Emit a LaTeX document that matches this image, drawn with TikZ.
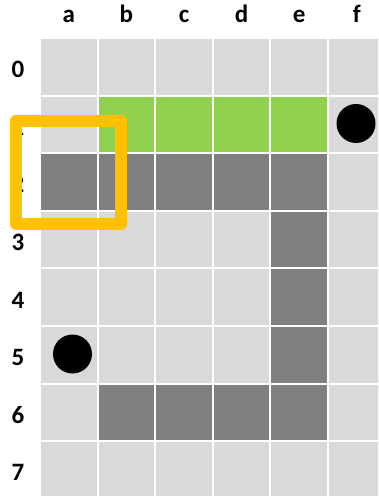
\documentclass[tikz,border=0pt]{standalone}
\usepackage{fontspec}
\setmainfont{Carlito}
\usepackage{tikz}
\usetikzlibrary{positioning}

\definecolor{cellgray}{HTML}{D9D9D9}
\definecolor{wallgray}{HTML}{7F7F7F}
\definecolor{pathgreen}{HTML}{92D050}
\definecolor{selorange}{HTML}{FFC000}

\begin{document}
\begin{tikzpicture}[x=57.6pt,y=-57.6pt,
    cell/.style={rectangle,draw=white,line width=2pt,fill=cellgray,
        minimum size=57.6pt,inner sep=0pt},
    wall/.style={cell,fill=wallgray},
    green/.style={cell,fill=pathgreen},
    lbl/.style={anchor=base,font=\fontsize{25}{27}\selectfont\bfseries},
    token/.style={circle,fill=black,minimum size=39pt,inner sep=0pt},
    selbox/.style={draw=selorange,line width=12pt,line join=round}]
    \clip (-0.6944,-0.6597) rectangle (5.868,7.951);
    \fill[white] (-0.6944,-0.6597) rectangle (5.868,7.951);
    % grid
    \foreach \col [count=\i from 0] in {a,b,c,d,e,f} {
        \node[lbl] (c\col) at (\i+0.5,-0.266) {\col};
        \foreach \row in {0,...,7}
            \node[cell] (\col\row) at (\i+0.5,\row+0.5) {};
    }
    \foreach \row in {0,...,7}
        \node[lbl] (r\row) at (-0.382,\row+0.69) {\row};
    % green row
    \node[green] (gb1) at (b1) {};
    \node[green] (gc1) at (c1) {};
    \node[green] (gd1) at (d1) {};
    \node[green] (ge1) at (e1) {};
    % walls
    \node[wall] (wa2) at (a2) {};
    \node[wall] (wb2) at (b2) {};
    \node[wall] (wc2) at (c2) {};
    \node[wall] (wd2) at (d2) {};
    \node[wall] (we2) at (e2) {};
    \node[wall] (we3) at (e3) {};
    \node[wall] (we4) at (e4) {};
    \node[wall] (we5) at (e5) {};
    \node[wall] (wb6) at (b6) {};
    \node[wall] (wc6) at (c6) {};
    \node[wall] (wd6) at (d6) {};
    \node[wall] (we6) at (e6) {};
    % tokens
    \node[token] (tf1) at (5.486,1.484) {};
    \node[token] (ta5) at (0.564,5.486) {};
    % selection
    \draw[selbox] (-0.417,1.441) rectangle (1.406,3.229);
\end{tikzpicture}
\end{document}
